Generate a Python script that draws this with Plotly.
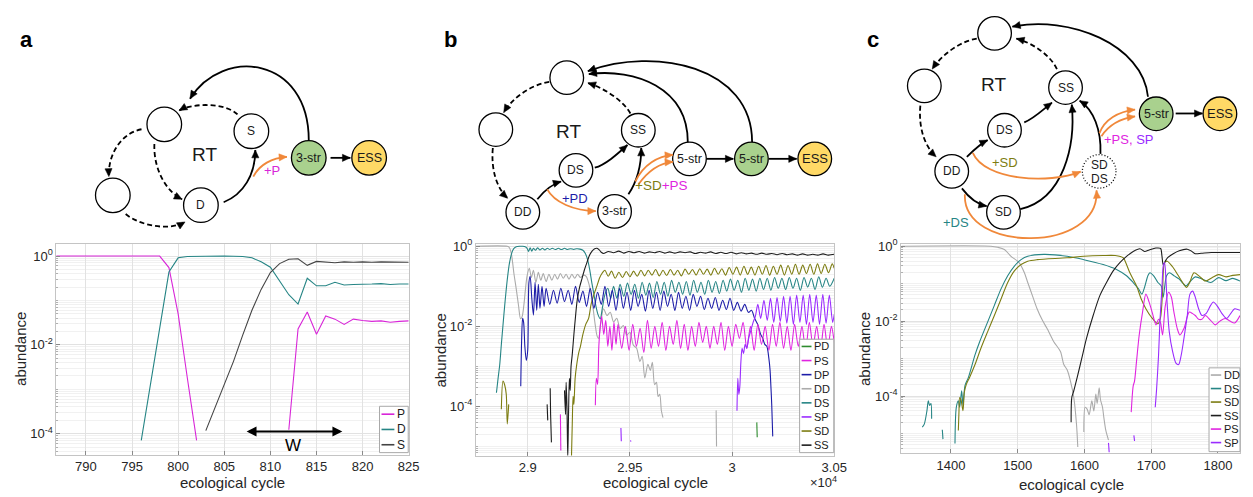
import plotly.graph_objects as go

FONT = "Liberation Sans, Arial, Helvetica, sans-serif"
W, H = 1253, 497

# ======================= DATA (log10 abundance vs ecological cycle) =======================
# ---- panel a ----
a_P_x = [786, 797, 798, 799, 800, 801, 802, None, 812, 813, 814, 815, 816, 817, 818, 819, 820, 821, 822, 823, 824, 825]
a_P_log = [0, 0, 0, -0.26, -1.3, -2.75, -4.15, None, -3.91, -1.64, -1.26, -1.76, -1.35, -1.42, -1.54, -1.42, -1.45, -1.47, -1.46, -1.49, -1.47, -1.46]
a_D_x = [796, 797, 798, 799, 800, 801, 805, 807, 808, 809, 810, 811, 812, 813, 814, 815, 816, 817, 818, 819, 820, 821, 822, 823, 824, 825]
a_D_log = [-4.15, -2.88, -1.61, -0.36, -0.04, -0.01, 0, -0.01, -0.04, -0.13, -0.25, -0.56, -0.87, -1.08, -0.5, -0.67, -0.67, -0.59, -0.65, -0.64, -0.64, -0.63, -0.62, -0.64, -0.63, -0.63]
a_S_x = [803, 804, 805, 806, 807, 808, 809, 810, 811, 812, 813, 814, 815, 816, 817, 818, 819, 820, 821, 822, 823, 824, 825]
a_S_log = [-3.93, -3.4, -2.89, -2.37, -1.78, -1.22, -0.75, -0.37, -0.17, -0.07, -0.06, -0.21, -0.12, -0.13, -0.15, -0.13, -0.14, -0.13, -0.14, -0.13, -0.13, -0.13, -0.14]
a_names = ["P", "D", "S"]
a_W_from, a_W_to, a_W_log = 807.1, 817.8, -3.95

# ---- panel b ----
b_PD_x = [30121, 30123]
b_PD_log = [-4.4, -4.77]
b_PS_x = [29160, 29162, None,
          29331, 29336, 29342, 29348, 29355, 29362, 29372, 29382, 29392, 29402, 29412, 29422, 29432, 29442,
          29460, 29478, 29496, 29514, 29532, 29550, 29568, 29586, 29604, 29622, 29640, 29658, 29676, 29694,
          29712, 29730, 29748, 29766, 29784, 29802, 29820, 29838, 29856, 29874, 29892, 29910, 29928, 29946,
          29964, 29982, 30000, 30018, 30036, 30054, 30072, 30090, 30108, 30126, 30144, 30162, 30180, 30198,
          30216, 30234, 30252, 30270, 30288, 30306, 30324, 30342, 30360, 30378, 30396, 30414, 30432, 30450,
          30468, 30486, 30500]
b_PS_log = [-4.2, -5.1, None,
            -3.97, -3.3, -3.45, -2.5, -2.0, -1.75, -2.2, -1.85, -2.5, -2.0, -2.6, -1.9, -2.45, -1.95,
            -2.55, -2.0, -2.6, -1.95, -2.5, -2.05, -2.65, -1.85, -2.55, -2.0, -2.5, -1.9, -2.6, -2.0,
            -2.45, -1.85, -2.55, -1.95, -2.6, -2.0, -2.5, -1.9, -2.4, -2.0, -2.55, -2.0, -2.45, -1.9,
            -2.6, -2.0, -2.5, -1.95, -2.3, -1.9, -2.55, -2.0, -2.6, -1.95, -2.45, -2.0, -2.6, -1.95,
            -2.5, -1.9, -2.55, -2.0, -2.6, -1.95, -2.5, -2.0, -2.6, -1.9, -2.5, -2.0, -2.6, -1.95,
            -2.55, -2.0, -2.4]
b_DP_x = [28966, 28970, 28975, 28980, 28986, 28993, 29000, 29006, 29012, 29020, 29028, 29036, 29044, 29052,
          29060, 29070, 29080, 29090, 29108, 29126, 29144, 29162, 29180, 29198, 29216, 29234, 29252, 29270,
          29288, 29306, 29324, 29342, 29360, 29378, 29396, 29414, 29432, 29450, 29468, 29486, 29504, 29522,
          29540, 29558, 29576, 29594, 29612, 29630, 29648, 29666, 29684, 29702, 29720, 29738, 29756, 29774,
          29792, 29810, 29828, 29846, 29864, 29882, 29900, 29918, 29936, 29954, 29972, 29990, 30008, 30026,
          30044, 30062, 30080, 30095, 30110, 30125, 30140, 30150, 30160, 30170, 30180, 30186, 30190, 30194, 30199]
b_DP_log = [-3.5, -2.4, -1.8, -1.9, -2.5, -2.85, -2.6, -0.9, -0.75, -1.3, -1.72, -0.9, -1.6, -0.95,
            -1.55, -1.0, -1.5, -1.05, -1.45, -1.1, -1.42, -1.05, -1.38, -1.1, -1.45, -1.0, -1.4, -1.12,
            -1.5, -1.05, -1.55, -1.15, -1.45, -1.0, -1.5, -1.1, -1.6, -1.05, -1.55, -1.15, -1.6, -1.1,
            -1.5, -1.2, -1.62, -1.1, -1.55, -1.15, -1.6, -1.12, -1.5, -1.2, -1.6, -1.15, -1.55, -1.25,
            -1.6, -1.2, -1.5, -1.25, -1.58, -1.3, -1.55, -1.28, -1.6, -1.35, -1.58, -1.3, -1.6, -1.4,
            -1.62, -1.45, -1.65, -1.6, -1.8, -1.95, -2.2, -2.3, -2.45, -2.5, -2.8, -3.1, -3.5, -3.95, -4.75]
b_DD_x = [28747, 28900, 28910, 28919, 28926, 28932, 28944, 28955, 28965, 28973, 28981, 28989, 28997, 29008,
          29018, 29028, 29040, 29052, 29064, 29076, 29090, 29104, 29118, 29132, 29146, 29160, 29174, 29188,
          29202, 29216, 29230, 29244, 29258, 29272, 29286, 29300, 29310, 29320, 29330, 29340, 29347, 29358,
          29371, 29388, 29404, 29420, 29436, 29452, 29468, 29484, 29500, 29517, 29533, 29549, 29560, 29573,
          29588, 29600, 29610, 29621, 29630, 29638, 29646, 29654, 29662, None, 29922, 29924]
b_DD_log = [0, 0, -0.03, -0.16, -0.4, -0.66, -1.07, -1.48, -1.81, -1.75, -1.48, -1.07, -0.74, -0.55,
            -0.78, -0.6, -0.9, -0.65, -0.85, -0.68, -0.88, -0.7, -0.85, -0.7, -0.82, -0.68, -0.8, -0.7,
            -0.82, -0.7, -0.8, -0.7, -0.78, -0.72, -0.75, -0.95, -1.2, -1.55, -1.95, -2.25, -2.3, -1.89,
            -1.56, -1.73, -1.65, -1.89, -1.8, -2.06, -1.98, -2.22, -2.15, -2.47, -2.55, -2.88, -2.75, -3.29,
            -2.95, -3.1, -2.9, -3.46, -3.4, -3.75, -3.7, -4.11, -4.28, None, -4.1, -5.0]
b_DS_x = [28847, 28855, 28863, 28871, 28879, 28887, 28895, 28903, 28911, 28919, 28927, 28935, 28944, 28960,
          28975, 28990, 28998, 29004, 29012, 29020, 29028, 29038, 29048, 29060, 29072, 29084, 29096, 29108,
          29120, 29135, 29150, 29165, 29180, 29195, 29210, 29225, 29240, 29255, 29270, 29282, 29294, 29304,
          29314, 29324, 29334, 29345, 29355, 29365, 29378, 29392, 29406, 29420, 29436, 29452, 29470, 29488,
          29506, 29524, 29542, 29560, 29578, 29596, 29614, 29632, 29650, 29668, 29686, 29704, 29722, 29740,
          29758, 29776, 29794, 29812, 29830, 29848, 29866, 29884, 29902, 29920, 29938, 29956, 29974, 29992,
          30010, 30028, 30046, 30064, 30082, 30100, 30118, 30136, 30154, 30172, 30190, 30208, 30226, 30244,
          30262, 30280, 30298, 30316, 30334, 30352, 30370, 30388, 30406, 30424, 30442, 30460, 30478, 30500]
b_DS_log = [-3.66, -3.3, -2.96, -2.45, -1.97, -1.5, -1.07, -0.7, -0.41, -0.22, -0.1, -0.04, -0.01, 0.0,
            0.0, -0.02, -0.06, -0.13, -0.04, -0.12, -0.05, -0.1, -0.04, -0.09, -0.05, -0.09, -0.05, -0.08,
            -0.05, -0.08, -0.05, -0.08, -0.05, -0.08, -0.06, -0.08, -0.06, -0.07, -0.1, -0.18, -0.35, -0.6,
            -0.92, -1.2, -1.5, -1.72, -1.81, -1.55, -1.2, -1.05, -1.3, -1.0, -1.3, -0.95, -1.25, -0.92,
            -1.2, -0.95, -1.3, -0.9, -1.22, -0.92, -1.28, -0.88, -1.2, -0.9, -1.25, -0.85, -1.15, -0.9,
            -1.2, -0.88, -1.22, -0.85, -1.15, -0.9, -1.2, -0.85, -1.15, -0.88, -1.18, -0.85, -1.12, -0.82,
            -1.1, -0.85, -1.15, -0.8, -1.1, -0.82, -1.12, -0.8, -1.08, -0.8, -1.1, -0.78, -1.05, -0.8,
            -1.08, -0.78, -1.05, -0.8, -1.1, -0.78, -1.02, -0.8, -1.08, -0.76, -1.02, -0.8, -1.0, -0.8]
b_SP_x = [29456, 29458, None, 29503, 29505, None,
          30024, 30028, 30033, 30038, 30043, 30049, 30056, 30064, 30072, 30081, 30092, 30103, 30114, 30126,
          30140, 30156, 30172, 30188, 30204, 30220, 30236, 30252, 30268, 30284, 30300, 30316, 30332, 30348,
          30364, 30380, 30396, 30412, 30428, 30444, 30460, 30476, 30492, 30500]
b_SP_log = [-4.54, -4.87, None, -4.85, -4.88, None,
            -4.11, -3.3, -3.7, -3.5, -2.9, -2.55, -2.68, -2.45, -2.55, -2.3, -2.1, -1.9, -1.75, -1.45,
            -1.8, -1.35, -1.85, -1.3, -1.9, -1.28, -1.88, -1.25, -1.92, -1.25, -1.95, -1.22, -1.9, -1.22,
            -1.95, -1.2, -1.9, -1.22, -1.95, -1.2, -1.92, -1.22, -1.9, -1.7]
b_SD_x = [28871, 28879, 28887, 28895, 28900, 28907, None,
          29214, 29218, 29222, 29226, 29232, 29240, 29250, 29258, 29270, 29284, 29298, 29310, 29324, 29339,
          29351, 29363, 29378, 29394, 29410, 29428, 29446, 29464, 29482, 29500, 29518, 29536, 29554, 29572,
          29590, 29608, 29626, 29644, 29662, 29680, 29698, 29716, 29734, 29752, 29770, 29788, 29806, 29824,
          29842, 29860, 29878, 29896, 29914, 29932, 29950, 29968, 29986, 30004, 30022, 30040, 30058, 30076,
          30094, 30112, 30130, 30148, 30166, 30184, 30202, 30220, 30238, 30256, 30274, 30292, 30310, 30328,
          30346, 30364, 30382, 30400, 30418, 30436, 30454, 30472, 30490, 30500]
b_SD_log = [-4.07, -3.37, -3.46, -3.7, -4.44, -3.95, None,
            -5.3, -4.44, -3.75, -3.95, -3.3, -2.95, -2.65, -2.5, -2.2, -1.95, -1.8, -1.45, -1.2, -0.99,
            -0.8, -0.68, -0.6, -0.75, -0.62, -0.8, -0.65, -0.78, -0.63, -0.76, -0.62, -0.75, -0.6, -0.74,
            -0.6, -0.72, -0.58, -0.74, -0.6, -0.73, -0.58, -0.72, -0.6, -0.74, -0.57, -0.7, -0.58, -0.72,
            -0.56, -0.7, -0.57, -0.72, -0.55, -0.7, -0.56, -0.72, -0.53, -0.7, -0.52, -0.72, -0.5, -0.7,
            -0.52, -0.72, -0.5, -0.7, -0.48, -0.72, -0.5, -0.7, -0.47, -0.72, -0.48, -0.7, -0.45, -0.7,
            -0.47, -0.68, -0.45, -0.7, -0.44, -0.68, -0.45, -0.66, -0.44, -0.55]
b_SS_x = [29095, 29098, None, 29110, 29112, 29116, None,
          29180, 29185, 29188, 29192, 29196, 29200, 29204, 29208, 29212, 29218, 29226, 29234, 29242, 29254,
          29266, 29278, 29290, 29303, 29315, 29328, 29339, 29350, 29360, 29371, 29395, 29420, 29445, 29470,
          29495, 29520, 29545, 29570, 29595, 29620, 29645, 29670, 29695, 29720, 29745, 29770, 29795, 29820,
          29845, 29870, 29895, 29920, 29945, 29970, 29995, 30020, 30045, 30070, 30095, 30120, 30145, 30170,
          30195, 30220, 30245, 30270, 30295, 30320, 30345, 30370, 30395, 30420, 30445, 30470, 30500]
b_SS_log = [-3.95, -4.35, None, -3.55, -4.2, -4.9, None,
            -3.6, -4.2, -3.4, -4.0, -5.3, -4.1, -3.3, -3.6, -3.0, -2.7, -2.2, -1.75, -1.35, -1.02,
            -0.8, -0.58, -0.4, -0.22, -0.12, -0.06, -0.05, -0.09, -0.15, -0.18, -0.13, -0.16, -0.12, -0.17,
            -0.13, -0.16, -0.13, -0.17, -0.14, -0.16, -0.13, -0.17, -0.14, -0.17, -0.14, -0.16, -0.14, -0.18,
            -0.15, -0.17, -0.14, -0.18, -0.15, -0.18, -0.15, -0.19, -0.16, -0.19, -0.17, -0.2, -0.17, -0.2,
            -0.18, -0.21, -0.18, -0.21, -0.19, -0.22, -0.19, -0.22, -0.2, -0.22, -0.19, -0.22, -0.2]
b_names = ["PD", "PS", "DP", "DD", "DS", "SP", "SD", "SS"]

# ---- panel c ----
c_DD_x = [1326, 1460, 1470, 1480, 1490, 1502, 1510, 1515, 1522, 1529, 1537, 1544, 1554, 1564, 1569, 1574,
          1579, 1584, 1588, 1590, None, 1599, 1601, 1604, 1607, 1611, 1614, 1617, 1619, 1622, 1624, 1627,
          1629, 1632, 1636]
c_DD_log = [0, 0, -0.03, -0.09, -0.27, -0.44, -0.71, -0.97, -1.32, -1.67, -1.98, -2.2, -2.55, -2.81, -3.16, -3.3,
            -3.6, -4.04, -4.74, -5.36, None, -4.96, -4.3, -4.35, -4.5, -4.13, -4.4, -3.95, -4.2, -3.78, -4.1, -4.3,
            -4.57, -4.92, -5.18]
c_DS_x = [1357, 1360, 1364, 1366, 1368, 1370, 1371, None, 1387, 1388, None,
          1406, 1408, 1411, 1413, 1416, 1418, 1421, 1426, 1436, 1443, 1455, 1465, 1475, 1485, 1495, 1505,
          1515, 1539, 1574, 1599, 1628, 1648, 1663, 1673, 1681, 1686, 1690, 1695, 1698, 1704, 1710, 1715,
          1718, 1720, 1723, 1727, 1735, 1742, 1752, 1759, 1766, 1777, 1789, 1801, 1812, 1822, 1833]
c_DS_log = [-4.83, -4.75, -4.39, -4.13, -4.25, -4.2, -4.61, None, -4.9, -5.15, None,
            -5.27, -4.3, -4.13, -4.3, -3.86, -4.25, -3.72, -3.51, -2.9, -2.55, -2.02, -1.58, -1.14, -0.79, -0.53, -0.36,
            -0.27, -0.22, -0.27, -0.36, -0.49, -0.62, -0.79, -0.97, -1.14, -1.28, -1.1, -0.79, -0.71, -0.8, -0.97, -1.06,
            -1.36, -1.1, -0.79, -0.71, -0.8, -0.88, -1.06, -0.93, -0.82, -0.88, -0.97, -0.84, -0.92, -0.86, -0.93]
c_SD_x = [1411, 1412, 1413, 1415, 1418, 1420, 1423, 1428, 1436, 1445, 1455, 1465, 1475, 1485, 1495, 1505,
          1515, 1529, 1574, 1599, 1628, 1646, 1658, 1663, 1668, 1678, 1685, 1692, 1700, 1710, 1714, 1717,
          1720, 1724, 1732, 1740, 1747, 1753, 1758, 1764, 1772, 1781, 1791, 1801, 1812, 1822, 1833]
c_SD_log = [-4.92, -4.4, -4.04, -4.1, -4.39, -3.9, -3.69, -3.5, -3.16, -2.72, -2.28, -1.85, -1.41, -0.97, -0.66, -0.49,
            -0.4, -0.36, -0.31, -0.27, -0.25, -0.25, -0.31, -0.49, -0.71, -1.06, -1.41, -1.67, -1.89, -2.07, -1.9, -1.2,
            -0.44, -0.4, -0.55, -0.77, -0.97, -1.1, -0.95, -0.71, -0.8, -0.93, -0.84, -0.76, -0.82, -0.78, -0.76]
c_SS_x = [1580, 1581, 1584, 1589, 1596, 1603, 1613, 1623, 1633, 1643, 1653, 1663, 1673, 1683, 1690, 1697,
          1707, 1714, 1716, 1718, 1721, 1725, 1733, 1742, 1754, 1760, 1766, 1775, 1790, 1810, 1833]
c_SS_log = [-4.7, -4.04, -3.86, -3.51, -2.99, -2.46, -1.85, -1.32, -0.97, -0.66, -0.44, -0.27, -0.14, -0.07, -0.14, -0.1,
            -0.05, -0.06, -0.25, -0.5, -0.4, -0.3, -0.2, -0.12, -0.08, -0.13, -0.2, -0.19, -0.17, -0.17, -0.17]
c_PS_x = [1670, 1672, 1673, 1675, 1678, 1682, 1687, 1692, 1697, 1702, 1707, 1711, 1714, 1717, 1721, 1726,
          1730, 1734, 1739, 1743, 1749, 1757, 1762, 1766, 1771, 1776, 1781, 1789, 1796, 1803, 1811, 1818, 1825, 1833]
c_PS_log = [-4.43, -3.9, -3.73, -3.6, -3.07, -2.37, -1.76, -1.28, -1.5, -1.8, -2.1, -1.95, -2.05, -2.37, -1.6, -1.23,
            -1.35, -1.76, -2.2, -2.37, -2.2, -1.76, -1.8, -1.85, -1.95, -1.95, -1.85, -1.98, -2.1, -2.0, -1.93, -2.0, -2.05, -1.85]
c_SP_x = [1636, 1637, None, 1674, 1675, None,
          1706, 1708, 1711, 1713, 1716, 1718, 1720, 1722, 1724, 1727, 1732, 1737, 1741, 1745, 1749, 1754,
          1758, 1762, 1766, 1771, 1776, 1782, 1789, 1793, 1799, 1806, 1813, 1819, 1825, 1833]
c_SP_log = [-5.25, -5.5, None, -5.05, -5.2, None,
            -4.3, -3.83, -2.9, -2.02, -1.14, -0.53, -0.44, -0.88, -1.58, -2.28, -2.81, -3.12, -3.16, -2.9, -2.46, -1.85,
            -1.28, -1.2, -1.36, -1.67, -1.85, -1.8, -1.58, -1.49, -1.6, -1.8, -1.93, -1.8, -1.67, -1.71]
c_names = ["DD", "DS", "SD", "SS", "PS", "SP"]

# ---- ticks ----
y_tickvals = [1e-4, 1e-2, 1]
y_ticktext = ["10<sup>-4</sup>", "10<sup>-2</sup>", "10<sup>0</sup>"]
a_xticks = [790, 795, 800, 805, 810, 815, 820, 825]
b_xticks = [29000, 29500, 30000, 30500]
b_xticklabels = ["2.9", "2.95", "3", "3.05"]
c_xticks = [1400, 1500, 1600, 1700, 1800]

# ======================= STYLE =======================
COL = {
    "P": "#d826d8", "PS": "#e024e0", "D": "#268585", "DS": "#268585", "S": "#444444",
    "SS": "#1e1e1e", "DP": "#1c1ca8", "DD": "#ababab", "SP": "#9a2cff", "SD": "#7d7d12", "PD": "#2e8b2e",
}
ORANGE = "#f0883a"


def px(x):
    return x / W


def py(y):
    return 1 - y / H


def lin(vals):
    return [None if v is None else 10 ** v for v in vals]


fig = go.Figure()


def add_series(x, logy, color, xa, ya, width=1.1, shape="linear"):
    fig.add_trace(go.Scatter(x=x, y=lin(logy), mode="lines", line=dict(color=color, width=width, shape=shape,
                                                                       smoothing=0.8),
                             xaxis=xa, yaxis=ya, showlegend=False, connectgaps=False, hoverinfo="skip"))


a_data = {"P": (a_P_x, a_P_log), "D": (a_D_x, a_D_log), "S": (a_S_x, a_S_log)}
for n in a_names:
    add_series(*a_data[n], COL[n], "x", "y")

b_data = {"PD": (b_PD_x, b_PD_log), "PS": (b_PS_x, b_PS_log), "DP": (b_DP_x, b_DP_log),
          "DD": (b_DD_x, b_DD_log), "DS": (b_DS_x, b_DS_log), "SP": (b_SP_x, b_SP_log),
          "SD": (b_SD_x, b_SD_log), "SS": (b_SS_x, b_SS_log)}
for n in ["DD", "DS", "SD", "DP", "PS", "SP", "PD", "SS"]:
    add_series(*b_data[n], COL[n], "x2", "y2", shape="spline")

c_data = {"DD": (c_DD_x, c_DD_log), "DS": (c_DS_x, c_DS_log), "SD": (c_SD_x, c_SD_log),
          "SS": (c_SS_x, c_SS_log), "PS": (c_PS_x, c_PS_log), "SP": (c_SP_x, c_SP_log)}
for n in c_names:
    add_series(*c_data[n], COL[n], "x3", "y3", shape="spline")

common = dict(showline=True, mirror=True, linecolor="#c4c4c4", linewidth=1,
              ticks="inside", ticklen=4, tickcolor="#8a8a8a",
              showgrid=True, gridcolor="#e2e2e2", zeroline=False,
              tickfont=dict(family=FONT, size=13, color="#262626"))
ylog = dict(type="log", tickmode="array", tickvals=y_tickvals, ticktext=y_ticktext,
            minor=dict(dtick="D1", showgrid=True, gridcolor="#f1f1f1", ticks="inside",
                       ticklen=2, tickcolor="#b0b0b0"))

fig.update_layout(
    width=W, height=H, margin=dict(l=0, r=0, t=0, b=0), autosize=False,
    paper_bgcolor="white", plot_bgcolor="white", showlegend=False,
    font=dict(family=FONT, color="#262626"),
    xaxis=dict(domain=[px(57), px(413)], range=[786.8, 825], anchor="y",
               tickmode="array", tickvals=a_xticks, **common),
    yaxis=dict(domain=[py(454), py(240)], range=[-4.47, 0.28], anchor="x", **ylog, **common),
    xaxis2=dict(domain=[px(481), px(843)], range=[28747, 30500], anchor="y2",
                tickmode="array", tickvals=b_xticks, ticktext=b_xticklabels, **common),
    yaxis2=dict(domain=[py(455), py(240)], range=[-5.23, 0.067], anchor="x2", **ylog, **common),
    xaxis3=dict(domain=[px(910.7), 1.0], range=[1325.5, 1833], anchor="y3",
                tickmode="array", tickvals=c_xticks, **common),
    yaxis3=dict(domain=[py(452.7), py(240.7)], range=[-5.53, 0.05], anchor="x3", **ylog, **common),
)

shapes = []
annotations = []


def text(x, y, s, size=12, color="#1a1a1a", bold=False, angle=0, xanchor="center"):
    annotations.append(dict(xref="paper", yref="paper", x=px(x), y=py(y), text=("<b>%s</b>" % s) if bold else s,
                            showarrow=False, xanchor=xanchor, yanchor="middle", textangle=angle,
                            font=dict(family=FONT, size=size, color=color)))


def circle(c, r=17.5, fill="white", dash="solid"):
    cx, cy = c
    shapes.append(dict(type="circle", xref="paper", yref="paper", x0=px(cx - r), x1=px(cx + r),
                       y0=py(cy + r), y1=py(cy - r), fillcolor=fill,
                       line=dict(color="black", width=1.3, dash=dash), layer="above"))


def arrow(p0, p3, c1=None, c2=None, color="black", dash="solid", width=1.8, L=8.0, hw=3.6):
    if c1 is None:
        path = "M %f,%f L %f,%f" % (px(p0[0]), py(p0[1]), px(p3[0]), py(p3[1]))
        d = (p3[0] - p0[0], p3[1] - p0[1])
    else:
        path = "M %f,%f C %f,%f %f,%f %f,%f" % (px(p0[0]), py(p0[1]), px(c1[0]), py(c1[1]),
                                                px(c2[0]), py(c2[1]), px(p3[0]), py(p3[1]))
        d = (p3[0] - c2[0], p3[1] - c2[1])
    nrm = (d[0] ** 2 + d[1] ** 2) ** 0.5
    ux, uy = d[0] / nrm, d[1] / nrm
    shapes.append(dict(type="path", xref="paper", yref="paper", path=path,
                       line=dict(color=color, width=width, dash=dash), layer="above"))
    bx, by = p3[0] - L * ux, p3[1] - L * uy
    nx, ny = -uy, ux
    tri = "M %f,%f L %f,%f L %f,%f Z" % (px(p3[0]), py(p3[1]),
                                         px(bx + hw * nx), py(by + hw * ny),
                                         px(bx - hw * nx), py(by - hw * ny))
    shapes.append(dict(type="path", xref="paper", yref="paper", path=tri, fillcolor=color,
                       line=dict(color=color, width=0.5), layer="above"))


DASH = "5px,3px"
GREEN, YELLOW = "#a9d18e", "#ffd966"

# ---------------- diagram a ----------------
A = dict(top=(166, 119), S=(254, 126), left=(114, 191), D=(203, 201), s3=(312, 153), ess=(373, 153))
for k in ["top", "S", "left", "D"]:
    circle(A[k])
circle(A["s3"], fill=GREEN)
circle(A["ess"], fill=YELLOW)
arrow((240, 109), (181, 105), (228, 97), (195, 97), dash=DASH)
arrow((143, 124), (110, 172), (122, 128), (109, 150), dash=DASH)
arrow((156, 139), (184, 195), (155, 162), (166, 186), dash=DASH)
arrow((127, 210), (187, 218), (140, 221), (170, 228), dash=DASH)
arrow((226, 198), (258, 145), (246, 190), (258, 170))
arrow((256, 172), (290, 152), (262, 160), (275, 153), color=ORANGE)
arrow((312, 135), (192, 93), (312, 50), (225, 40))
arrow((334, 153), (354, 153))
text(207, 150, "RT", 19)
text(254, 126, "S", 12)
text(203, 201, "D", 12)
text(312, 153, "3-str", 12.5)
text(373, 153, "ESS", 12.5)
text(275, 166, "+P", 13, COL["P"])
text(27, 33, "a", 22, "black", bold=True)

# ---------------- diagram b ----------------
B = dict(top=(572.7, 71.7), left=(501, 124.3), SS=(645, 125), DS=(582, 165.7), DD=(528.3, 208.3),
         s3=(621, 207.3), s5w=(696.7, 154), s5g=(759.3, 154), ess=(823.3, 154))
for k in ["top", "left", "SS", "DS", "DD", "s3", "s5w"]:
    circle(B[k], r=17)
circle(B["s5g"], r=17, fill=GREEN)
circle(B["ess"], r=17, fill=YELLOW)
arrow((555, 76), (509, 107), (536, 79), (518, 92), dash=DASH)
arrow((498, 143), (513, 194), (496, 165), (502, 184), dash=DASH)
arrow((637, 108), (594, 77), (630, 95), (610, 82), dash=DASH)
arrow((543, 195), (567, 177), (550, 186), (557, 180))
arrow((601, 163), (634, 140), (612, 160), (624, 149))
arrow((635, 190), (648, 143), (645, 175), (648, 160))
arrow((553, 185), (602, 207), (560, 198), (580, 207), color=ORANGE)
arrow((642, 177), (680, 150), (650, 160), (665, 151), color=ORANGE)
arrow((645, 180), (680, 157), (655, 166), (667, 158), color=ORANGE)
arrow((695, 137), (595, 68), (695, 82), (642, 62))
arrow((760, 137), (594, 65), (760, 60), (662, 40))
arrow((714, 154), (741, 154))
arrow((777, 154), (805, 154))
text(574, 126, "RT", 19)
text(645, 125, "SS", 12)
text(582, 165.7, "DS", 12)
text(528.3, 208.3, "DD", 12)
text(621, 207.3, "3-str", 12.5)
text(696.7, 154, "5-str", 12.5)
text(759.3, 154, "5-str", 12.5)
text(823.3, 154, "ESS", 13)
text(580.7, 194.3, "+PD", 13, COL["DP"])
text(668.5, 181, '<span style="color:%s">+SD</span><span style="color:%s">+PS</span>' % (COL["SD"], COL["PS"]), 13.5)
text(455, 33, "b", 22, "black", bold=True)

# ---------------- diagram c ----------------
C = dict(top=(1005, 26.7), left=(934, 80), SS=(1076.7, 81.7), DS=(1015, 125), DD=(961.7, 166.7),
         SD=(1014, 208.3), mix=(1110.7, 166.7), s5g=(1168.3, 108.3), ess=(1232.7, 108.3))
for k in ["top", "left", "SS", "DS", "DD", "SD"]:
    circle(C[k], r=17)
circle(C["mix"], r=17, dash="1px,2px")
circle(C["s5g"], r=17, fill=GREEN)
circle(C["ess"], r=17, fill=YELLOW)
arrow((987, 32), (942, 63), (970, 35), (952, 48), dash=DASH)
arrow((930, 100), (946, 152), (928, 122), (934, 141), dash=DASH)
arrow((1068, 63), (1027, 32), (1062, 50), (1045, 37), dash=DASH)
arrow((1160, 91), (1023, 20), (1155, 38), (1080, 8))
arrow((977, 152), (998, 135), (984, 145), (990, 139))
arrow((1035, 117), (1063, 97), (1045, 113), (1055, 103))
arrow((972, 184), (997, 202), (978, 192), (987, 200))
arrow((1031, 205), (1083, 99), (1075, 195), (1087, 140))
arrow((1112, 149), (1091, 95), (1113, 125), (1105, 104))
arrow((983, 148), (1092, 167), (995, 176), (1060, 180), color=ORANGE)
arrow((975, 190), (1108, 186), (972, 250), (1112, 250), color=ORANGE)
arrow((1111, 128), (1147, 104), (1116, 114), (1130, 106), color=ORANGE)
arrow((1113, 131), (1147, 111), (1121, 119), (1133, 113), color=ORANGE)
arrow((1188, 108), (1215, 108))
text(1004, 78.3, "RT", 19)
text(1076.7, 81.7, "SS", 12)
text(1015, 125, "DS", 12)
text(961.7, 166.7, "DD", 12)
text(1014, 208.3, "SD", 12)
text(1110.7, 160, "SD", 12)
text(1110.7, 174, "DS", 12)
text(1168.3, 108.3, "5-str", 12.5)
text(1232.7, 108.3, "ESS", 13)
text(1016, 157.3, "+SD", 13, COL["SD"])
text(966, 218.3, "+DS", 13, COL["DS"])
text(1141, 134.5, '<span style="color:%s">+PS,</span> <span style="color:%s">SP</span>' % (COL["PS"], COL["SP"]), 13)
text(881.7, 33, "c", 22, "black", bold=True)

# ---------------- axis titles ----------------
for (xx, yy) in [(20, 347), (445, 348), (873, 347)]:
    text(xx, yy, "abundance", 15, "#262626", angle=-90)
for (xx, yy) in [(235, 482), (662, 482), (1083, 484)]:
    text(xx, yy, "ecological cycle", 15, "#262626")
text(832, 482, "×10<sup>4</sup>", 13, "#262626")

# W arrow (panel a)
annotations.append(dict(xref="x", yref="y", x=a_W_to, y=a_W_log, ax=a_W_from, ay=0, axref="x", ayref="pixel",
                        showarrow=True, arrowhead=2, arrowside="end+start", arrowsize=1.1, arrowwidth=1.8,
                        arrowcolor="black", text=" "))
annotations.append(dict(xref="x", yref="y", x=(a_W_from + a_W_to) / 2, y=a_W_log - 0.32, text="W",
                        showarrow=False, font=dict(family=FONT, size=17, color="black")))


# ---------------- legends (drawn by hand, MATLAB style) ----------------
def legend(names, x0, x1, y0, y1, first, step, lx0, lx1, tx, size):
    shapes.append(dict(type="rect", xref="paper", yref="paper", x0=px(x0), x1=px(x1), y0=py(y1), y1=py(y0),
                       fillcolor="white", line=dict(color="#a8a8a8", width=1), layer="above"))
    for i, n in enumerate(names):
        yy = first + i * step
        shapes.append(dict(type="line", xref="paper", yref="paper", x0=px(lx0), x1=px(lx1), y0=py(yy), y1=py(yy),
                           line=dict(color=COL[n], width=1.6), layer="above"))
        text(tx, yy, n, size, "#1a1a1a", xanchor="left")


legend(a_names, 383.5, 412.5, 405, 452, 413, 15.5, 385.5, 398.5, 399.5, 12)
legend(b_names, 808, 842.5, 337, 452, 344.3, 14.3, 810, 820, 821, 11)
legend(c_names, 1221.7, 1253, 366, 451, 373.3, 13.7, 1223.5, 1234, 1235, 11)

fig.update_layout(shapes=shapes, annotations=annotations)
fig.write_html("out.html", config={"displayModeBar": False},
               post_script="document.body.style.margin='0px';document.body.style.overflow='hidden';")
